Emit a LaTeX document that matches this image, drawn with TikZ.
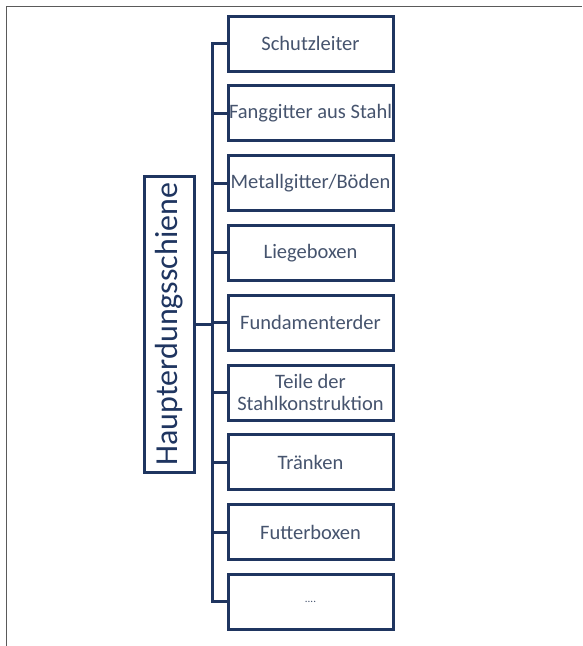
\documentclass[tikz,border=0pt]{standalone}
\usepackage{fontspec}
\setmainfont{Carlito}
\definecolor{navy}{HTML}{1F3560}
\definecolor{txt}{HTML}{46546E}
\definecolor{frame}{HTML}{5A5A5A}
\begin{document}
\begin{tikzpicture}[x=1pt,y=-1pt,
  itembox/.style={draw=navy,line width=3pt,fill=white,minimum width=165pt,minimum height=55pt,
    inner sep=1pt,align=center,text=txt,font=\fontsize{20.5}{22}\selectfont},
  conn/.style={draw=navy,line width=3pt}]
\useasboundingbox (0,0) rectangle (582,646);
\fill[white] (0,0) rectangle (582,646);
\draw[frame,line width=1.6pt] (6.5,646) -- (6.5,6.5) -- (582,6.5);
\foreach \n/\t [count=\i from 0] in {b1/Schutzleiter,b2/Fanggitter aus Stahl,b3/{Metallgitter/Böden},b4/Liegeboxen,b5/Fundamenterder,b6/{Teile der\\Stahlkonstruktion},b7/Tränken,b8/Futterboxen,b9/{\fontsize{11}{12}\selectfont ....}}
  \node[itembox] (\n) at (310.5,{43.5+69.8*\i}) {\t};
\node[draw=navy,line width=3pt,rotate=90,minimum width=296pt,minimum height=50pt,inner sep=1pt,
  text=navy,font=\fontsize{32}{34}\selectfont] (hs) at (169,324) {Haupterdungsschiene};
\draw[conn] (hs.south) -- ++(17,0) coordinate (j);
\draw[conn,line cap=rect] (b1.west -| j) -- (b9.west -| j);
\foreach \n in {b1,b2,b3,b4,b5,b6,b7,b8,b9}
  \draw[conn] (\n.west -| j) -- (\n.west);
\end{tikzpicture}
\end{document}
